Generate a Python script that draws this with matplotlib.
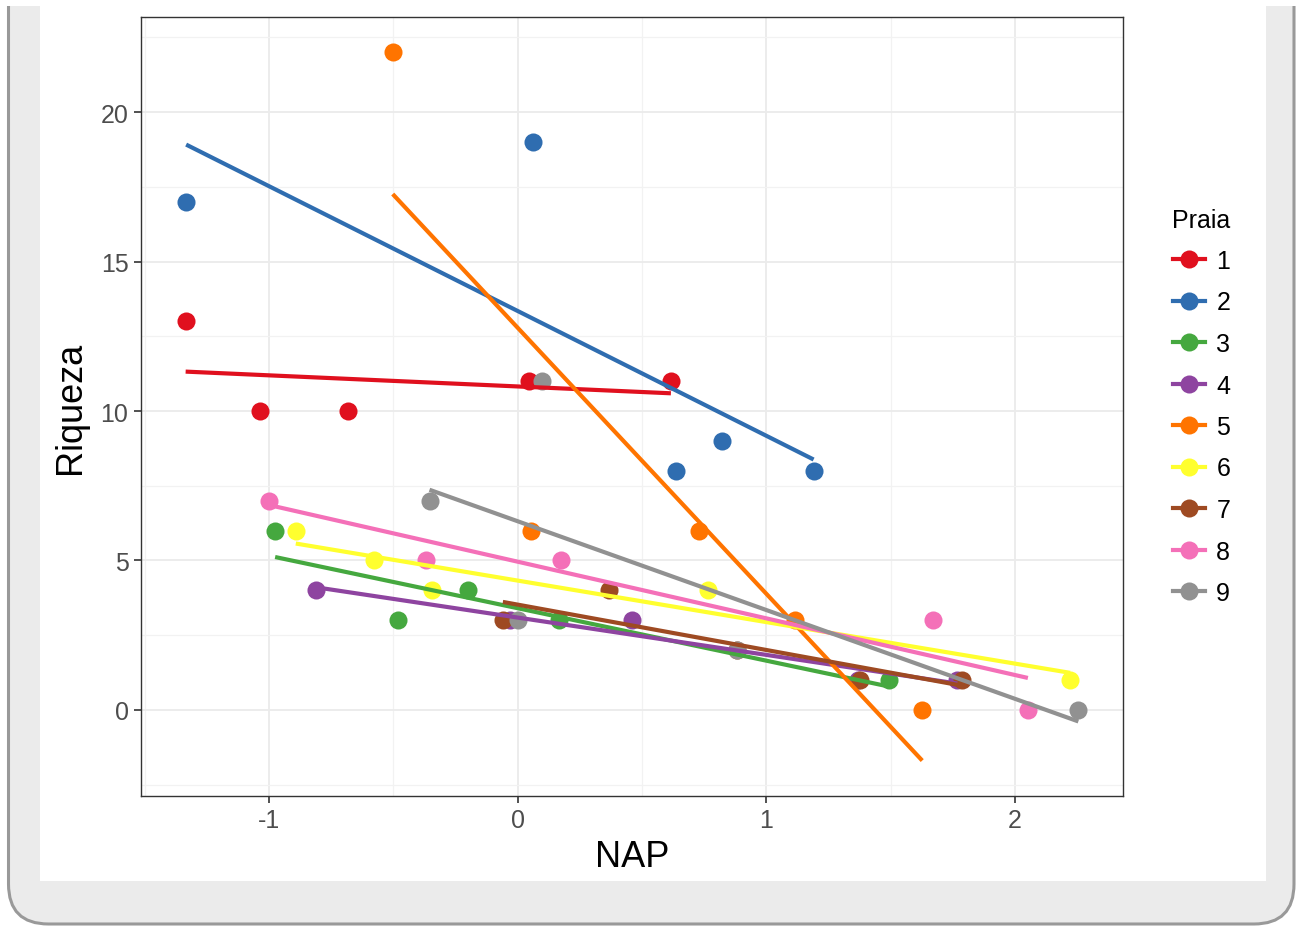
import numpy as np
import matplotlib.pyplot as plt
from matplotlib.lines import Line2D
from matplotlib.patches import FancyBboxPatch, Rectangle
from matplotlib.ticker import MultipleLocator

plt.rcParams['font.family'] = ['Liberation Sans', 'DejaVu Sans']

# RIKZ-style data: beach (praia), NAP and species richness
praia = [1] * 5 + [2] * 5 + [3] * 5 + [4] * 5 + [5] * 5 + [6] * 5 + [7] * 5 + [8] * 5 + [9] * 5
nap = [0.045, -1.036, -1.336, 0.616, -0.684,
       1.190, 0.820, 0.635, 0.061, -1.334,
       -0.976, 1.494, -0.201, -0.482, 0.167,
       1.768, -0.030, 0.460, 1.367, -0.811,
       1.117, -0.503, 0.729, 1.627, 0.054,
       -0.578, -0.346, 2.222, -0.893, 0.766,
       0.883, 1.786, 1.375, 0.367, -0.060,
       1.671, -1.002, -0.371, 0.175, 2.052,
       -0.355, 0.098, 0.881, 2.255, 0.000]
riqueza = [11, 10, 13, 11, 10,
           8, 9, 8, 19, 17,
           6, 1, 4, 3, 3,
           1, 3, 3, 1, 4,
           3, 22, 6, 0, 6,
           5, 4, 1, 6, 4,
           2, 1, 1, 4, 3,
           3, 7, 5, 5, 0,
           7, 11, 2, 0, 3]
labels = ['1', '2', '3', '4', '5', '6', '7', '8', '9']
colors = ['#E0101E', '#2F6DB0', '#45A83F', '#8E44A0', '#FF7400',
          '#FFFF2E', '#9E4A22', '#F470B8', '#919191']

praia = np.array(praia)
nap = np.array(nap)
riqueza = np.array(riqueza)

fig = plt.figure(figsize=(12.96, 9.28), dpi=100)

# grey card frame behind the plot (top edge runs off the picture)
frame = FancyBboxPatch((0.085, 0.03), 12.855, 10.0,
                       boxstyle='round,pad=0,rounding_size=0.4',
                       transform=fig.dpi_scale_trans, facecolor='#ebebeb',
                       edgecolor='#999999', linewidth=2.2, zorder=-10)
fig.patches.append(frame)
topstrip = Rectangle((0, 9.21), 12.96, 0.1, transform=fig.dpi_scale_trans,
                     facecolor='white', edgecolor='none', zorder=-8)
fig.patches.append(topstrip)
inner = Rectangle((0.40, 0.46), 12.26, 8.82, transform=fig.dpi_scale_trans,
                  facecolor='white', edgecolor='none', zorder=-9)
fig.patches.append(inner)

ax = fig.add_axes([141 / 1296, 1 - 797 / 928, (1123 - 141) / 1296, (797 - 18) / 928])

# points first, then the per-beach linear fits
fits = []
for i, lab in enumerate(labels):
    m = praia == i + 1
    ax.plot(nap[m], riqueza[m], 'o', markersize=13, color=colors[i],
            markeredgewidth=0, zorder=3)
for i, lab in enumerate(labels):
    m = praia == i + 1
    b, a = np.polyfit(nap[m], riqueza[m], 1)
    xs = np.array([nap[m].min(), nap[m].max()])
    ys = a + b * xs
    fits.append(ys)
    ax.plot(xs, ys, '-', linewidth=3.0, color=colors[i], zorder=4,
            solid_capstyle='butt')

# ggplot-like 5% expansion
allx = nap
ally = np.concatenate([riqueza, np.concatenate(fits)])
dx = (allx.max() - allx.min()) * 0.05
dy = (ally.max() - ally.min()) * 0.05
ax.set_xlim(allx.min() - dx, allx.max() + dx)
ax.set_ylim(ally.min() - dy, ally.max() + dy)

ax.set_xticks([-1, 0, 1, 2])
ax.set_xticklabels(['-1', '0', '1', '2'])
ax.set_yticks([0, 5, 10, 15, 20])
ax.xaxis.set_minor_locator(MultipleLocator(0.5))
ax.yaxis.set_minor_locator(MultipleLocator(2.5))
ax.grid(True, which='major', color='#ebebeb', linewidth=1.3, zorder=0)
ax.grid(True, which='minor', color='#f2f2f2', linewidth=0.9, zorder=0)
ax.set_axisbelow(True)
ax.tick_params(which='major', length=5, width=1.2, color='#333333',
               labelsize=18, labelcolor='#4d4d4d', pad=4)
ax.tick_params(which='minor', length=0)
for s in ax.spines.values():
    s.set_color('#333333')
    s.set_linewidth(1.0)

ax.set_xlabel('NAP', fontsize=26, labelpad=5)
ax.set_ylabel('Riqueza', fontsize=26, labelpad=9)

handles = [Line2D([0], [0], color=c, linewidth=3.0, marker='o', markersize=13,
                  markeredgewidth=0) for c in colors]
leg = fig.legend(handles, labels, title='Praia', loc='upper left',
                 bbox_to_anchor=(1160 / 1296, 1 - 196 / 928), frameon=False,
                 fontsize=18, title_fontsize=18, handlelength=1.3,
                 handletextpad=0.45, labelspacing=0.70, borderpad=0)
leg._legend_box.align = 'left'

fig.savefig('out.png', dpi=100, facecolor='white')
